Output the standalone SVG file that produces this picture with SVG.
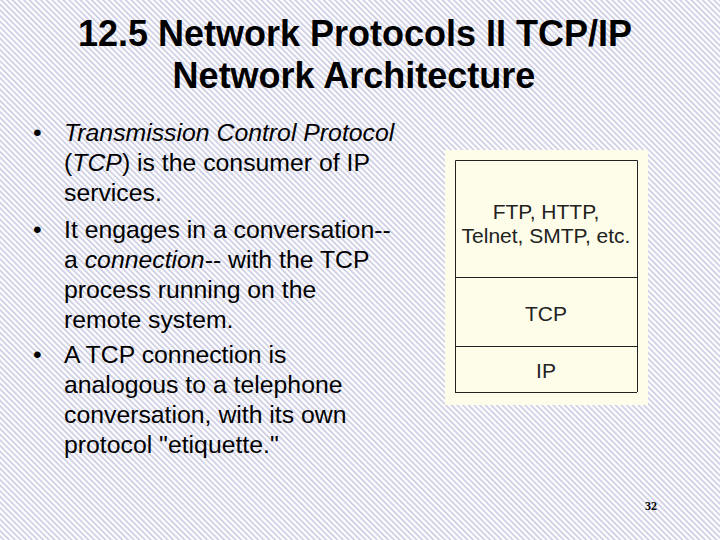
<svg xmlns="http://www.w3.org/2000/svg" width="720" height="540" viewBox="0 0 720 540">
<defs>
<pattern id="h" width="4" height="4" patternUnits="userSpaceOnUse" patternTransform="rotate(-45)">
<rect width="4" height="4" fill="#ffffff"/><rect width="1.6" height="4" fill="#c9c9e2"/>
</pattern>
<style>
.t{font-family:"Liberation Sans",Arial,sans-serif;font-size:36px;font-weight:bold;fill:#000;text-anchor:middle}
.b{font-family:"Liberation Sans",Arial,sans-serif;font-size:24.8px;fill:#000}
.s{font-family:"Liberation Sans",Arial,sans-serif;font-size:21px;fill:#222;text-anchor:middle}
.ln{stroke:#222;stroke-width:1;fill:none}
</style>
</defs>
<rect width="720" height="540" fill="url(#h)"/>
<g id="title">
<text class="t" x="355" y="46">12.5 Network Protocols II TCP/IP</text>
<text class="t" x="354" y="88">Network Architecture</text>
</g>
<g id="body" class="b">
<text x="33" y="141">•</text><text x="64" y="141" font-style="italic">Transmission Control Protocol</text>
<text x="64" y="171">(<tspan font-style="italic">TCP</tspan>) is the consumer of IP</text>
<text x="64" y="201">services.</text>
<text x="33" y="238">•</text><text x="64" y="238">It engages in a conversation--</text>
<text x="64" y="268">a <tspan font-style="italic">connection</tspan>-- with the TCP</text>
<text x="64" y="298">process running on the</text>
<text x="64" y="328">remote system.</text>
<text x="33" y="363">•</text><text x="64" y="363">A TCP connection is</text>
<text x="64" y="393">analogous to a telephone</text>
<text x="64" y="423">conversation, with its own</text>
<text x="64" y="453">protocol "etiquette."</text>
</g>
<g id="stack">
<rect x="445" y="150" width="203" height="255" fill="#fefde9"/>
<path class="ln" d="M455.5 392V160.5H637.5V392M455 392.5H637M455 277.5H637M455 346.5H637"/>
<text class="s" x="546" y="219">FTP, HTTP,</text>
<text class="s" x="546" y="243">Telnet, SMTP, etc.</text>
<text class="s" x="546" y="321">TCP</text>
<text class="s" x="546" y="378">IP</text>
</g>
<text x="651" y="510" font-family="Liberation Serif,serif" font-size="12" font-weight="bold" text-anchor="middle">32</text>
</svg>
